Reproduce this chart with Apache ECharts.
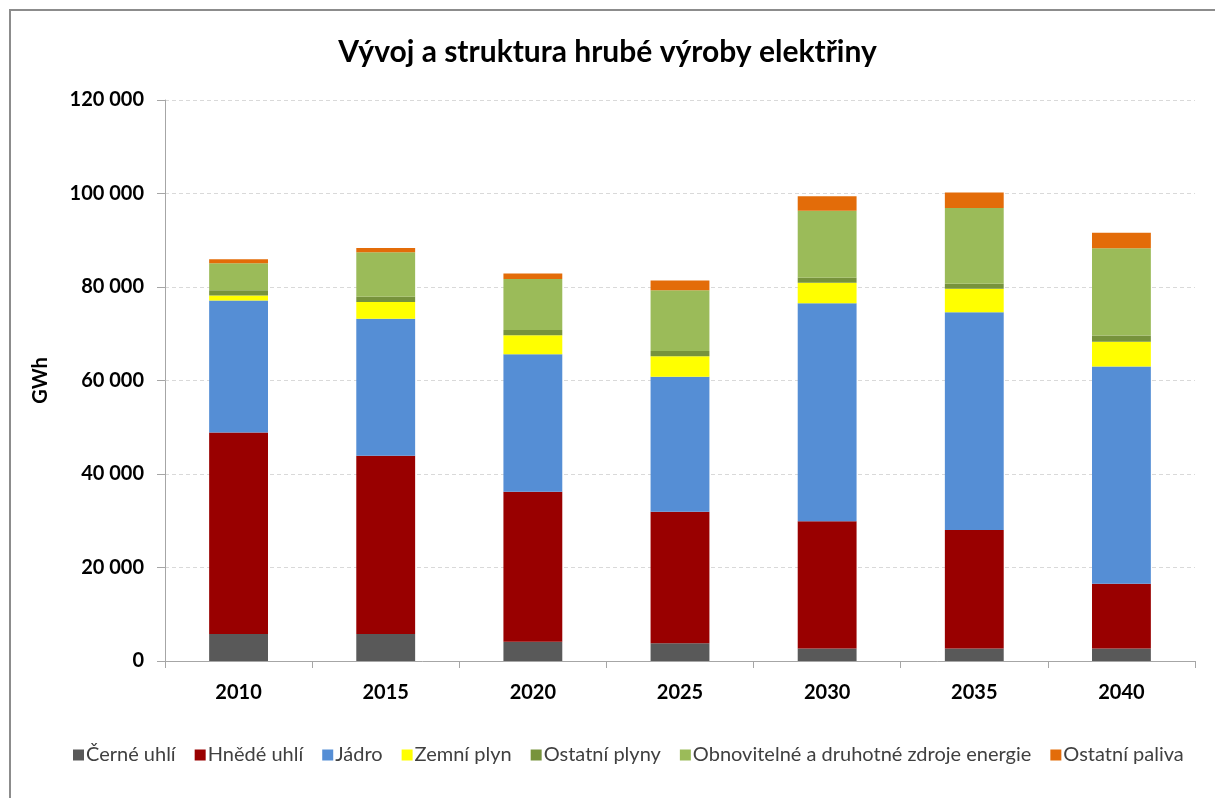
<!DOCTYPE html>
<html>
<head>
<meta charset="utf-8">
<title>Vývoj a struktura hrubé výroby elektřiny</title>
<script src="https://cdn.jsdelivr.net/npm/echarts@6/dist/echarts.min.js"></script>
<style>
  html, body { margin: 0; padding: 0; background: #ffffff; overflow: hidden; }
  #chart { width: 1215px; height: 798px; }
</style>
</head>
<body>
<div id="chart"></div>
<script>
// Roky
const years = ['2010', '2015', '2020', '2025', '2030', '2035', '2040'];

// Hrubá výroba elektřiny podle zdroje [GWh]
const cerneUhli    = [5800, 5800, 4100, 3800, 2700, 2700, 2700];
const hnedeUhli    = [43100, 38100, 32100, 28100, 27200, 25300, 13800];
const jadro        = [28200, 29300, 29400, 28900, 46600, 46600, 46500];
const zemniPlyn    = [1100, 3600, 4100, 4400, 4400, 5000, 5300];
const ostatniPlyny = [1100, 1100, 1100, 1100, 1100, 1100, 1300];
const obnovitelne  = [5800, 9550, 10900, 13000, 14300, 16200, 18700];
const ostatniPaliva = [850, 900, 1200, 2100, 3100, 3300, 3300];

// Osa Y
const yMin = 0, yMax = 120000, yStep = 20000;

const seriesDefs = [
  { name: 'Černé uhlí', data: cerneUhli, color: '#595959' },
  { name: 'Hnědé uhlí', data: hnedeUhli, color: '#990000' },
  { name: 'Jádro', data: jadro, color: '#558ED5' },
  { name: 'Zemní plyn', data: zemniPlyn, color: '#FFFF00' },
  { name: 'Ostatní plyny', data: ostatniPlyny, color: '#77933C' },
  { name: 'Obnovitelné a druhotné zdroje energie', data: obnovitelne, color: '#9BBB59' },
  { name: 'Ostatní paliva', data: ostatniPaliva, color: '#E36C09' }
];

const FONT = 'Lato, "Open Sans", sans-serif';

const chart = echarts.init(document.getElementById('chart'), null, { renderer: 'canvas' });

chart.setOption({
  backgroundColor: '#ffffff',
  animation: false,
  textStyle: { fontFamily: FONT },
  title: {
    text: 'Vývoj a struktura hrubé výroby elektřiny',
    left: 'center',
    top: 32,
    padding: [5, 0, 5, 26],
    textStyle: { fontFamily: FONT, fontSize: 30, fontWeight: 'bold', color: '#000000' }
  },
  graphic: [{
    // rámeček grafu (levá a horní hrana)
    type: 'polyline',
    silent: true,
    shape: { points: [[10, 798], [10, 10], [1215, 10]] },
    style: { fill: 'none', stroke: '#8c8c8c', lineWidth: 2 }
  }],
  legend: {
    top: 740,
    left: 68,
    icon: 'rect',
    itemWidth: 11,
    itemHeight: 11,
    itemGap: 19,
    textStyle: { fontFamily: FONT, fontSize: 20, color: '#404040', padding: [0, 0, 0, -3] },
    data: seriesDefs.map(s => s.name)
  },
  grid: { left: 165, right: 20, top: 100, bottom: 137, containLabel: false },
  xAxis: {
    type: 'category',
    data: years,
    axisLine: { lineStyle: { color: '#a6a6a6', width: 1 } },
    axisTick: { show: true, length: 7, lineStyle: { color: '#a6a6a6' } },
    axisLabel: { fontFamily: FONT, fontSize: 20, fontWeight: 'bold', color: '#000000', margin: 22 },
    splitLine: { show: false }
  },
  yAxis: {
    type: 'value',
    min: yMin,
    max: yMax,
    interval: yStep,
    name: 'GWh',
    nameLocation: 'middle',
    nameGap: 114,
    nameTextStyle: { fontFamily: FONT, fontSize: 20, fontWeight: 'bold', color: '#000000' },
    axisLine: { show: true, lineStyle: { color: '#a6a6a6', width: 1 } },
    axisTick: { show: true, length: 8, lineStyle: { color: '#a6a6a6' } },
    axisLabel: {
      fontFamily: FONT, fontSize: 20, fontWeight: 'bold', color: '#000000', margin: 21,
      formatter: v => String(v).replace(/\B(?=(\d{3})+(?!\d))/g, ' ')
    },
    splitLine: { show: true, lineStyle: { color: '#d9d9d9', type: [4, 3], width: 1 } }
  },
  series: seriesDefs.map(s => ({
    name: s.name,
    type: 'bar',
    stack: 'vyroba',
    barCategoryGap: '60%',
    data: s.data,
    itemStyle: { color: s.color },
    emphasis: { disabled: true }
  }))
});
</script>
</body>
</html>
